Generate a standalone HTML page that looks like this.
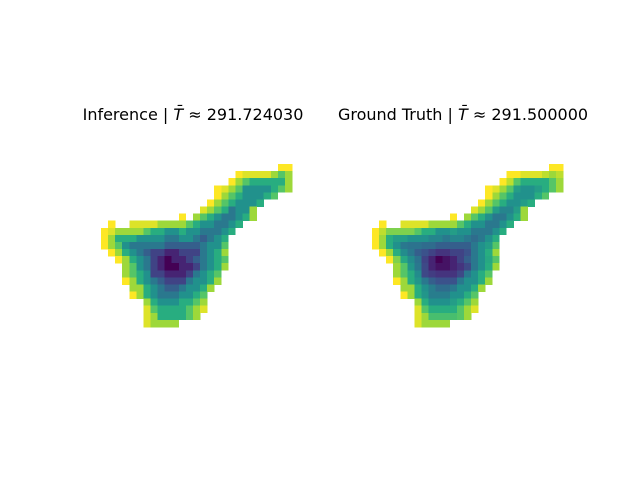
<!DOCTYPE html>
<html><head><meta charset="utf-8">
<style>
html,body{margin:0;padding:0;background:#fff;}
svg{display:block;}
text{font-family:"DejaVu Sans","Liberation Sans",sans-serif;font-size:16px;fill:#000;}
</style></head>
<body>
<svg id="chart" width="640" height="480" viewBox="0 0 640 480">
  <rect width="640" height="480" fill="#fff"/>
  <text x="193" y="120" text-anchor="middle">Inference | <tspan font-style="italic">T̄</tspan> ≈ 291.724030</text>
  <text x="463" y="120" text-anchor="middle">Ground Truth | <tspan font-style="italic">T̄</tspan> ≈ 291.500000</text>
  <g id="left" shape-rendering="crispEdges"></g>
  <g id="right" shape-rendering="crispEdges"></g>
</svg>
<script>
// Each row: [startColumn, values...] ; null = masked cell
const inferenceRows = [
 [25,100,100],
 [19,100,95,95,95,95,85,73,85],
 [18,100,85,73,62,62,62,62,62,85],
 [16,100,95,85,73,50,50,50,50,62,73,85],
 [16,100,85,73,62,50,50,50,62,73],
 [15,100,85,73,62,50,50,50,62],
 [14,95,85,73,62,40,50,50,85],
 [11,100,null,85,73,62,50,40,40,50,62,85],
 [1,100,null,null,95,95,95,95,85,85,85,85,73,62,50,50,40,40,50,62],
 [0,100,95,85,85,85,85,73,62,62,50,50,62,50,50,40,40,40,50,62],
 [0,100,85,62,62,62,50,50,50,50,40,40,50,50,40,30,40,50,62],
 [0,100,85,73,50,40,40,40,40,40,30,30,30,30,30,40,50,50,73],
 [1,100,85,62,50,40,30,20,20,10,10,20,20,20,40,50,62,85],
 [2,100,85,62,50,40,20,10,0,10,10,20,30,40,50,62,73],
 [3,85,73,50,40,20,10,0,0,10,10,20,40,50,62,85],
 [3,85,73,62,50,20,20,10,10,10,20,40,50,62,73],
 [3,100,85,62,50,40,30,20,20,20,40,50,50,62,85],
 [4,85,85,62,50,40,30,30,40,50,50,62,85],
 [4,100,85,62,50,40,40,40,50,50,62,73],
 [6,85,62,50,50,50,62,62,73,85],
 [6,95,73,62,62,62,62,73,85,95],
 [6,95,85,62,62,62,62,73,85],
 [6,95,85,85,85,85]
];
const truthRows = [
 [25,100,100],
 [19,100,100,95,95,95,90,85,90],
 [18,100,90,73,62,62,62,62,73,85],
 [16,100,95,85,73,55,50,50,55,62,73,85],
 [16,100,85,73,62,50,50,50,62,73],
 [15,100,85,73,62,50,50,55,62],
 [14,95,85,73,55,45,45,55,85],
 [11,100,null,85,73,62,50,40,40,50,62,85],
 [1,100,null,null,95,95,95,95,85,85,85,85,73,62,50,50,40,40,50,62],
 [0,100,90,80,80,80,80,73,62,62,50,50,55,50,50,40,40,40,50,62],
 [0,100,85,62,55,55,50,50,50,45,45,40,45,45,40,35,40,50,62],
 [0,100,85,62,50,40,38,38,35,35,30,30,30,30,30,40,50,55,73],
 [1,100,85,62,48,40,30,25,20,15,15,20,20,25,40,50,62,85],
 [2,100,80,60,48,38,20,10,0,5,10,20,30,40,50,60,73],
 [3,85,73,52,40,22,10,5,5,10,15,22,40,50,62,85],
 [3,85,73,62,48,22,18,15,15,15,22,40,50,62,73],
 [3,100,85,62,52,40,30,25,25,25,40,50,50,62,85],
 [4,85,85,62,50,42,35,35,40,50,50,62,85],
 [4,100,85,62,52,42,42,42,50,50,62,73],
 [6,85,62,50,50,50,55,62,73,85],
 [6,95,73,62,62,62,62,73,85,95],
 [6,95,85,70,70,70,70,73,85],
 [6,95,85,85,85,85]
];
const viridisStops = ["#440154","#472d7b","#3b528b","#2c728e","#21918c","#28ae80","#5ec962","#addc30","#fde725"];
const vmin = 0, vmax = 100;
function hex2rgb(h){return [1,3,5].map(i=>parseInt(h.substr(i,2),16));}
function colorOf(v){
  let t=(v-vmin)/(vmax-vmin); t=Math.max(0,Math.min(1,t));
  const s=t*(viridisStops.length-1); const i=Math.min(Math.floor(s),viridisStops.length-2); const f=s-i;
  const a=hex2rgb(viridisStops[i]), b=hex2rgb(viridisStops[i+1]);
  return "rgb("+a.map((x,k)=>Math.round(x+(b[k]-x)*f)).join(",")+")";
}
const NS="http://www.w3.org/2000/svg";
const cellW=191/27, cellH=163/23;
function xScale(x0,c){return x0+c*cellW;}
function yScale(y0,r){return y0+r*cellH;}
function draw(id,rows,x0,y0){
  const g=document.getElementById(id);
  rows.forEach((row,r)=>{
    const start=row[0];
    for(let k=1;k<row.length;k++){
      const v=row[k]; if(v===null) continue;
      const c=start+k-1;
      const rect=document.createElementNS(NS,"rect");
      const x=xScale(x0,c), y=yScale(y0,r);
      rect.setAttribute("x",x.toFixed(2));
      rect.setAttribute("y",y.toFixed(2));
      rect.setAttribute("width",(xScale(x0,c+1)-x+0.3).toFixed(2));
      rect.setAttribute("height",(yScale(y0,r+1)-y+0.3).toFixed(2));
      rect.setAttribute("fill",colorOf(v));
      
      
      g.appendChild(rect);
    }
  });
}
draw("left",inferenceRows,101,164);
draw("right",truthRows,372,164);
</script>
</body></html>
